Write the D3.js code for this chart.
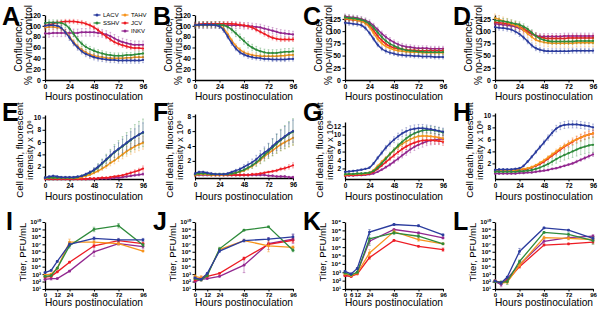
<!DOCTYPE html>
<html><head><meta charset="utf-8">
<script src="https://cdn.jsdelivr.net/npm/d3@7"></script>
<style>
body{margin:0;background:#fff}
text{font-family:"Liberation Sans",Arial,sans-serif;fill:#000}
</style>
</head><body>
<svg id="chart" width="600" height="321"></svg>
<script>
// ---------- data ----------
const viruses = ["LACV","SSHV","TAHV","JCV","INKV"];
const drawOrder = ["INKV","JCV","TAHV","SSHV","LACV"];
const colors = {LACV:"#2b3c9e", SSHV:"#2e8b3b", TAHV:"#f7941d", JCV:"#ed1c24", INKV:"#92278f"};

const hours = [0,4,8,12,16,20,24,28,32,36,40,44,48,52,56,60,64,68,72,76,80,84,88,92,96];
const titerHours = [0,6,12,24,48,72,96];

// Confluence, % no-virus control
const confA = {
  LACV:[100,101,101,100,96,88,78,68,60,53,48,45,42,40,39,38,37,37,36,36,36,36,36,36,37],
  TAHV:[97,98,98,97,95,89,80,70,62,56,51,47,45,43,42,41,40,40,40,40,41,41,42,42,42],
  SSHV:[105,106,106,106,105,102,95,85,75,67,61,57,54,51,49,47,46,45,45,45,46,46,47,48,49],
  JCV:[100,102,104,106,107,108,108,108,107,106,104,101,97,92,86,80,75,70,67,64,62,60,59,59,58],
  INKV:[86,86,87,87,87,87,87,87,87,88,88,88,88,87,86,84,81,77,73,70,68,66,65,65,65]
};
const confB = {
  LACV:[101,102,102,102,102,101,99,92,80,68,58,51,47,44,42,41,40,39,39,38,38,38,38,39,39],
  TAHV:[100,101,101,101,101,101,100,95,85,73,63,56,51,48,46,45,44,44,44,44,44,45,45,46,46],
  SSHV:[101,102,102,102,102,102,102,101,98,93,86,79,72,65,60,56,53,51,50,50,50,51,52,52,53],
  JCV:[102,103,104,104,104,104,104,104,104,104,103,102,101,99,97,93,89,85,81,78,76,75,75,75,75],
  INKV:[101,101,101,101,101,101,101,101,101,101,101,101,100,100,99,98,97,95,93,91,89,87,86,85,84]
};
const confC = {
  LACV:[117,116,115,114,112,106,96,84,72,64,59,56,54,52,51,50,50,49,49,48,48,48,47,47,47],
  TAHV:[126,125,124,122,120,116,108,96,84,75,69,65,62,60,59,58,57,57,57,56,56,56,56,56,56],
  SSHV:[128,127,126,125,123,120,115,107,97,88,80,74,70,66,63,61,60,59,58,58,57,57,57,57,57],
  JCV:[125,124,123,122,120,117,111,101,90,81,74,69,66,64,63,62,61,61,60,60,60,60,60,60,60],
  INKV:[130,129,128,127,125,122,118,111,103,95,88,82,77,73,70,68,67,66,65,65,65,64,64,64,64]
};
const confD = {
  LACV:[108,107,106,105,103,99,94,87,79,71,65,62,60,59,59,59,59,59,59,60,60,60,60,60,60],
  TAHV:[127,124,121,118,115,112,108,102,95,88,82,79,77,76,75,75,75,75,75,75,76,76,76,76,76],
  SSHV:[122,121,120,119,117,115,113,109,104,97,90,85,82,80,79,79,79,79,79,79,80,80,80,80,80],
  JCV:[118,117,116,115,114,112,109,105,100,95,90,87,86,85,85,85,85,85,86,86,86,86,86,86,86],
  INKV:[115,114,113,112,111,109,106,102,98,94,91,89,89,89,89,89,89,90,90,90,90,90,90,90,90]
};
const confErrA = {LACV:5,TAHV:5,SSHV:5,JCV:4,INKV:7};
const confErrB = {LACV:4,TAHV:4,SSHV:6,JCV:4,INKV:6};
const confErrC = {LACV:4,TAHV:5,SSHV:5,JCV:4,INKV:5};
const confErrD = {LACV:5,TAHV:8,SSHV:6,JCV:6,INKV:6};

// Cell death, fluorescent intensity x 10^6
const deathE = {
  LACV:[0.2,0.4,0.5,0.4,0.3,0.3,0.3,0.3,0.4,0.5,0.8,1.1,1.5,2.0,2.6,3.2,3.8,4.4,4.9,5.4,5.9,6.4,6.8,7.2,7.6],
  SSHV:[0.2,0.2,0.2,0.2,0.2,0.2,0.2,0.2,0.3,0.5,0.7,1.0,1.4,1.9,2.5,3.1,3.7,4.3,4.8,5.3,5.8,6.3,6.8,7.2,7.5],
  TAHV:[0.1,0.2,0.2,0.2,0.2,0.2,0.2,0.2,0.2,0.3,0.5,0.7,1.0,1.3,1.7,2.1,2.6,3.0,3.5,4.0,4.5,4.9,5.3,5.6,5.9],
  JCV:[0,0,0,0,0,0,0,0,0,0,0,0.1,0.1,0.1,0.2,0.2,0.3,0.4,0.5,0.6,0.8,1.0,1.2,1.4,1.7],
  INKV:[0,0,0,0,0,0,0,0,0,0,0,0,0,0.1,0.1,0.1,0.1,0.2,0.2,0.3,0.4,0.5,0.6,0.7,0.8]
};
const deathF = {
  LACV:[0.3,0.5,0.5,0.4,0.3,0.2,0.2,0.2,0.3,0.5,0.7,0.9,1.2,1.5,1.8,2.2,2.7,3.1,3.5,4.0,4.5,4.9,5.3,5.7,6.0],
  SSHV:[0.2,0.3,0.3,0.3,0.2,0.2,0.2,0.2,0.2,0.3,0.4,0.6,0.8,1.1,1.4,1.8,2.3,2.8,3.3,3.8,4.3,4.8,5.2,5.6,5.9],
  TAHV:[0.1,0.2,0.2,0.2,0.1,0.1,0.1,0.1,0.2,0.3,0.4,0.5,0.7,1.0,1.3,1.7,2.1,2.6,3.0,3.4,3.8,4.2,4.5,4.8,5.1],
  JCV:[0.1,0.2,0.2,0.2,0.1,0.1,0.1,0.1,0.1,0.1,0.1,0.1,0.1,0.1,0.2,0.2,0.3,0.4,0.5,0.6,0.7,0.9,1.0,1.2,1.4],
  INKV:[0.1,0.1,0.1,0.1,0.1,0.1,0.1,0.1,0.1,0.1,0.1,0.1,0.1,0.1,0.1,0.1,0.1,0.1,0.0,0.0,-0.1,-0.1,-0.1,-0.2,-0.2]
};
const deathG = {
  LACV:[1.2,1.3,1.4,1.5,1.7,1.9,2.2,3.2,4.5,5.7,6.9,7.9,8.8,9.6,10.3,10.8,11.2,11.4,11.5,11.5,11.4,11.3,11.1,10.9,10.7],
  SSHV:[0.6,0.7,0.7,0.8,0.8,0.9,1.0,1.4,2.2,3.2,4.3,5.4,6.4,7.4,8.3,9.1,9.8,10.3,10.7,11.0,11.1,11.1,11.0,10.8,10.5],
  TAHV:[0.5,0.6,0.6,0.7,0.7,0.8,1.0,1.6,2.6,3.6,4.5,5.4,6.3,7.1,7.8,8.4,8.9,9.3,9.6,9.7,9.7,9.6,9.5,9.3,9.1],
  JCV:[0.3,0.4,0.4,0.5,0.5,0.6,0.8,1.2,1.9,2.7,3.5,4.3,5.1,5.9,6.6,7.2,7.7,8.1,8.4,8.6,8.7,8.7,8.6,8.5,8.3],
  INKV:[0.3,0.3,0.3,0.4,0.4,0.5,0.6,0.8,1.2,1.7,2.3,2.9,3.6,4.3,5.1,5.8,6.5,7.1,7.6,8.0,8.4,8.6,8.8,8.9,9.0]
};
const deathH = {
  LACV:[0.9,1.0,1.0,1.0,1.0,1.1,1.2,1.6,2.3,3.1,3.9,4.7,5.5,6.3,7.1,7.8,8.2,8.4,8.5,8.5,8.5,8.4,8.3,8.2,8.0],
  TAHV:[0.8,0.8,0.8,0.8,0.8,0.9,1.0,1.1,1.2,1.4,1.7,2.1,2.5,3.0,3.5,4.0,4.5,4.9,5.3,5.7,6.0,6.3,6.6,6.8,7.0],
  JCV:[0.7,0.7,0.7,0.7,0.7,0.8,0.9,1.0,1.1,1.3,1.6,1.9,2.3,2.8,3.3,3.8,4.3,4.8,5.2,5.6,6.0,6.3,6.6,6.8,7.0],
  SSHV:[0.6,0.6,0.6,0.6,0.6,0.6,0.7,0.7,0.8,0.9,1.1,1.3,1.6,1.9,2.3,2.7,3.1,3.4,3.7,4.0,4.3,4.6,4.8,5.0,5.1],
  INKV:[0.3,0.3,0.3,0.3,0.3,0.3,0.4,0.4,0.5,0.5,0.6,0.7,0.8,0.9,1.1,1.2,1.4,1.6,1.8,2.0,2.3,2.6,2.9,3.2,3.5]
};
// relative spread of the error bars
const deathRelE = {LACV:0.2,SSHV:0.3,TAHV:0.18,JCV:0.25,INKV:0.3};
const deathRelF = {LACV:0.25,SSHV:0.3,TAHV:0.2,JCV:0.25,INKV:0.3};
const deathRelG = {LACV:0.08,SSHV:0.08,TAHV:0.08,JCV:0.1,INKV:0.12};
const deathRelH = {LACV:0.07,SSHV:0.25,TAHV:0.1,JCV:0.08,INKV:0.1};

// Titer, log10 PFU/mL
const titerI = {
  LACV:[3.2,3.5,4.7,7.0,7.8,7.6,7.6], SSHV:[2.7,2.8,3.8,6.8,9.0,9.5,6.9],
  TAHV:[2.9,3.0,3.8,7.3,7.3,7.1,6.1], JCV:[2.6,2.7,3.3,4.6,6.8,7.5,7.1],
  INKV:[2.3,2.4,2.4,3.4,6.0,7.1,6.7]
};
const titerErrI = {
  LACV:[0.1,0.1,0.1,0.2,0.2,0.2,0.2], SSHV:[0.1,0.1,0.1,0.3,0.3,0.3,0.2],
  TAHV:[0.1,0.1,0.1,0.4,0.2,0.2,0.1], JCV:[0.1,0.1,0.1,0.1,0.2,0.2,0.2],
  INKV:[0.2,0.2,0.1,0.1,0.6,0.2,0.3]
};
const titerJ = {
  LACV:[2.5,2.3,3.1,6.1,7.5,7.7,8.0], SSHV:[2.4,2.2,2.8,6.4,8.9,9.35,6.2],
  TAHV:[2.7,2.5,2.9,6.3,7.5,6.8,6.6], JCV:[2.2,2.4,2.7,3.1,5.1,7.0,7.55],
  INKV:[2.0,2.3,2.4,2.7,4.2,7.1,7.7]
};
const titerErrJ = {
  LACV:[0.1,0.1,0.1,0.2,0.2,0.2,0.4], SSHV:[0.1,0.1,0.1,0.2,0.1,0.1,0.2],
  TAHV:[0.2,0.3,0.1,0.2,0.1,0.8,0.2], JCV:[0.1,0.3,0.1,0.1,0.2,0.3,0.3],
  INKV:[0.1,0.2,0.1,0.1,1.0,0.8,0.6]
};
const titerK = {
  LACV:[3.1,2.8,3.45,7.8,8.7,8.55,7.45], SSHV:[2.9,2.7,3.0,7.0,7.7,7.3,6.4],
  TAHV:[2.8,2.6,2.9,5.3,7.85,6.9,6.4], JCV:[2.6,2.5,2.8,4.75,6.8,6.1,5.7],
  INKV:[2.6,2.55,3.0,6.7,8.1,7.7,7.1]
};
const titerErrK = {
  LACV:[0.1,0.1,0.1,0.3,0.1,0.1,0.1], SSHV:[0.1,0.1,0.1,0.8,0.2,0.2,0.1],
  TAHV:[0.1,0.1,0.1,0.4,0.2,0.2,0.1], JCV:[0.1,0.1,0.1,0.2,0.1,0.1,0.2],
  INKV:[0.1,0.1,0.1,0.3,0.1,0.1,0.1]
};
const titerL = {
  LACV:[2.1,1.8,2.6,6.05,9.2,8.9,7.8], SSHV:[2.0,1.9,2.0,4.7,8.6,8.35,7.5],
  TAHV:[2.1,1.8,1.9,4.2,7.9,7.8,7.65], JCV:[2.1,1.9,2.1,4.0,6.9,7.05,7.3],
  INKV:[2.0,1.6,2.4,4.3,7.4,7.9,8.1]
};
const titerErrL = {
  LACV:[0.1,0.2,0.1,0.4,0.1,0.1,0.1], SSHV:[0.1,0.2,0.4,0.2,0.1,0.2,0.5],
  TAHV:[0.1,0.1,0.1,0.2,0.2,0.2,0.2], JCV:[0.1,0.1,0.1,0.2,0.1,0.1,0.2],
  INKV:[0.1,0.3,0.1,0.2,0.3,0.2,0.2]
};

const ticksConfAB = [0,20,40,60,80,100,120];
const ticksConfCD = [0,25,50,75,100,125];
const ticksDeathE = [2,4,6,8,10];
const ticksDeathF = [2,4,6,8];
const ticksDeathG = [2,4,6,8,10,12];
const ticksDeathH = [2,4,6,8,10];
const ticksHours = [0,24,48,72,96];
const ticksTiterIJ = [0,12,24,48,72,96];
const ticksTiterK = [0,6,12,24,48,72,96];
const ticksTiterL = [0,24,48,72,96];
const ticksLog10 = [1,2,3,4,5,6,7,8,9,10];
const ticksLog9 = [1,2,3,4,5,6,7,8,9];
const sup = {"0":"⁰","1":"¹","2":"²","3":"³","4":"⁴","5":"⁵","6":"⁶","7":"⁷","8":"⁸","9":"⁹"};
const powFmt = n => "10" + String(n).split("").map(c=>sup[c]).join("");

// ---------- drawing ----------
const svg = d3.select("#chart");

function drawPanel(p){
  const g = svg.append("g");
  const x = d3.scaleLinear().domain([0,96]).range([p.ox+45, p.ox+143]);
  const y = d3.scaleLinear().domain(p.yDomain).range(p.yRange);

  const ax = g.append("g").attr("transform",`translate(0,${p.yRange[0]})`)
    .call(d3.axisBottom(x).tickValues(p.xTicks).tickSize(2.5).tickSizeOuter(0).tickPadding(1.5));
  const ay = g.append("g").attr("transform",`translate(${p.ox+45},0)`)
    .call(d3.axisLeft(y).tickValues(p.yTicks).tickFormat(p.yFmt).tickSize(2.5).tickSizeOuter(0).tickPadding(1.5));
  [ax,ay].forEach(a=>{
    a.select(".domain").attr("stroke","#000").attr("stroke-width",1.3);
    a.selectAll(".tick line").attr("stroke","#000").attr("stroke-width",1);
    a.selectAll(".tick text").attr("font-size",p.tickFont||7).attr("fill","#000")
      .attr("font-weight","bold")
      .style("font-family","'Liberation Sans',Arial,sans-serif");
  });

  const line = d3.line().x(d=>x(d[0])).y(d=>y(d[1]));
  if(p.curve) line.curve(d3.curveMonotoneX);

  drawOrder.forEach(v=>{
    const vals = p.data[v];
    const pts = vals.map((val,i)=>[p.xs[i], val, p.err(v,i,val)]);
    const col = colors[v];
    const eg = g.append("g").attr("stroke",col).attr("stroke-opacity",p.errOpacity).attr("stroke-width",0.8);
    pts.forEach(d=>{
      if(d[2]<=0) return;
      const xx = x(d[0]), y1 = y(d[1]-d[2]), y2 = y(d[1]+d[2]);
      eg.append("line").attr("x1",xx).attr("x2",xx).attr("y1",y1).attr("y2",y2);
      eg.append("line").attr("x1",xx-p.cap).attr("x2",xx+p.cap).attr("y1",y2).attr("y2",y2);
      eg.append("line").attr("x1",xx-p.cap).attr("x2",xx+p.cap).attr("y1",y1).attr("y2",y1);
    });
    g.append("path").datum(pts).attr("d",line).attr("fill","none")
      .attr("stroke",col).attr("stroke-width",p.lw);
    g.append("g").selectAll("circle").data(pts).join("circle")
      .attr("cx",d=>x(d[0])).attr("cy",d=>y(d[1])).attr("r",p.r).attr("fill",col);
  });

  // panel letter
  svg.append("text").attr("x",p.ox+p.lx).attr("y",p.ly).attr("font-size",25)
    .attr("font-weight","bold").text(p.letter);
  // x title
  svg.append("text").attr("x",p.ox+94).attr("y",p.xTitleY).attr("text-anchor","middle")
    .attr("font-size",10.2).text("Hours postinoculation");
  // y title
  p.yTitle.forEach((t,i)=>{
    svg.append("text").attr("transform",`translate(${p.ox+p.yTitleX[i]},${p.yTitleY}) rotate(-90)`)
      .attr("text-anchor","middle").attr("dy","0.35em").attr("font-size",p.yTitleFont).text(t);
  });
  return {x,y,g};
}

const cols = [0,150,300,450];
const conf = [confA,confB,confC,confD];
const confErr = [confErrA,confErrB,confErrC,confErrD];
const death = [deathE,deathF,deathG,deathH];
const deathRel = [deathRelE,deathRelF,deathRelG,deathRelH];
const titer = [titerI,titerJ,titerK,titerL];
const titerErr = [titerErrI,titerErrJ,titerErrK,titerErrL];

// row 1
const confDomains = [[0,120],[0,120],[0,133],[0,133]];
const confTicks = [ticksConfAB,ticksConfAB,ticksConfCD,ticksConfCD];
["A","B","C","D"].forEach((L,c)=>{
  const P = drawPanel({
    ox:cols[c], letter:L, lx:c===0?2:3, ly:25,
    data:conf[c], xs:hours, err:(v)=>confErr[c][v],
    yDomain:confDomains[c], yRange:[80,15], yTicks:confTicks[c], yFmt:d3.format("d"),
    xTicks:ticksHours, curve:true, lw:1.5, r:1.15, cap:0.9, errOpacity:0.4,
    xTitleY:100, yTitle:["Confluence,","% no-virus control"], yTitleX:[18,28], yTitleY:45, yTitleFont:10
  });
  if(c===0){
    // legend
    const leg = [["LACV",97,15],["TAHV",125,15],["SSHV",97,23],["JCV",125,23],["INKV",125,31]];
    leg.forEach(([v,lx,ly])=>{
      svg.append("line").attr("x1",lx-3.5).attr("x2",lx+3.5).attr("y1",ly).attr("y2",ly)
        .attr("stroke",colors[v]).attr("stroke-width",1.2);
      svg.append("circle").attr("cx",lx).attr("cy",ly).attr("r",1.5).attr("fill",colors[v]);
      svg.append("text").attr("x",lx+6).attr("y",ly).attr("dy","0.35em").attr("font-size",6).text(v);
    });
  }
});

// row 2
const deathDomains = [[0,10.4],[-0.3,8.3],[-0.5,13],[-0.6,10.4]];
const deathRanges = [[179,115],[178,114],[179,122],[179,113]];
const deathTicks = [ticksDeathE,ticksDeathF,ticksDeathG,ticksDeathH];
["E","F","G","H"].forEach((L,c)=>{
  drawPanel({
    ox:cols[c], letter:L, lx:c===0?2:3, ly:121,
    data:death[c], xs:hours, err:(v,i,val)=>Math.max(0.15, Math.abs(val)*deathRel[c][v]),
    yDomain:deathDomains[c], yRange:deathRanges[c], yTicks:deathTicks[c], yFmt:d3.format("d"),
    xTicks:ticksHours, curve:true, lw:1.5, r:1.15, cap:0.9, errOpacity:0.4, tickFont:6.5,
    xTitleY:200, yTitle:["Cell death, fluorescent","intensity x 10⁶"], yTitleX:[20,30], yTitleY:150, yTitleFont:9.6
  });
});

// row 3
const titerTicksX = [ticksTiterIJ,ticksTiterIJ,ticksTiterK,ticksTiterL];
const titerDomains = [[1,10],[1,10],[1,9],[1,10]];
const titerTicksY = [ticksLog10,ticksLog10,ticksLog9,ticksLog10];
["I","J","K","L"].forEach((L,c)=>{
  drawPanel({
    ox:cols[c], letter:L, lx:c===0?6:3, ly:230,
    data:titer[c], xs:titerHours, err:(v,i)=>titerErr[c][v][i],
    yDomain:titerDomains[c], yRange:[289,222], yTicks:titerTicksY[c], yFmt:powFmt,
    xTicks:titerTicksX[c], curve:false, lw:1.3, r:1.4, cap:1.3, errOpacity:0.55, tickFont:6,
    xTitleY:306, yTitle:["Titer, PFU/mL"], yTitleX:[23], yTitleY:252, yTitleFont:9.6
  });
});
</script>
</body></html>
